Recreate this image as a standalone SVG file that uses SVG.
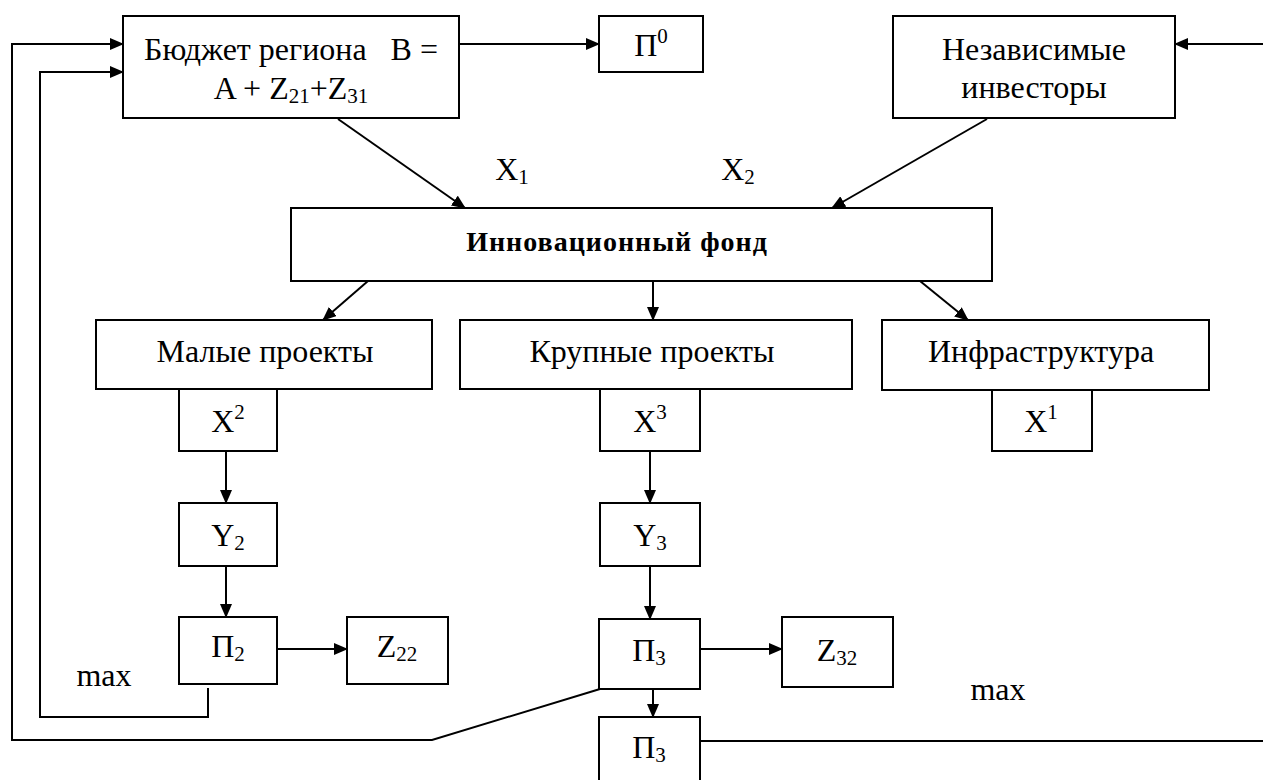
<svg xmlns="http://www.w3.org/2000/svg" width="1263" height="780" viewBox="0 0 1263 780">
<defs>
<marker id="ah" markerWidth="14" markerHeight="12" refX="13" refY="6" orient="auto" markerUnits="userSpaceOnUse">
<path d="M0,0 L14,6 L0,12 Z" fill="#000"/>
</marker>
<style>
rect{fill:#fff;stroke:#000;stroke-width:2}
text{font-family:"Liberation Serif","Times New Roman",serif;font-size:32px;fill:#000;text-anchor:middle}
.b{font-weight:bold;font-size:28px;letter-spacing:1px}
.sub{font-size:21px}
#conn line,#conn polyline{stroke:#000;stroke-width:2;fill:none}
.a{marker-end:url(#ah)}
</style>
</defs>
<rect x="0" y="0" width="1263" height="780" style="fill:#fff;stroke:none"/>
<g id="conn">
<line class="a" x1="459" y1="44" x2="599" y2="44"/>
<line class="a" x1="1263" y1="44" x2="1175" y2="44"/>
<polyline class="a" points="600,689 432,740 12,740 12,44 123,44"/>
<polyline class="a" points="208,688 208,717 40,717 40,72 123,72"/>
<line class="a" x1="338" y1="119" x2="465" y2="208"/>
<line class="a" x1="987" y1="119" x2="832" y2="208"/>
<line class="a" x1="368" y1="281" x2="323" y2="320"/>
<line class="a" x1="653" y1="281" x2="653" y2="320"/>
<line class="a" x1="920" y1="281" x2="968" y2="320"/>
<line class="a" x1="226" y1="451" x2="226" y2="503"/>
<line class="a" x1="226" y1="566" x2="226" y2="617"/>
<line class="a" x1="650" y1="451" x2="650" y2="503"/>
<line class="a" x1="650" y1="566" x2="650" y2="619"/>
<line class="a" x1="277" y1="649" x2="347" y2="649"/>
<line class="a" x1="700" y1="649" x2="782" y2="649"/>
<line class="a" x1="653" y1="689" x2="653" y2="717"/>
<line x1="700" y1="741" x2="1263" y2="741"/>
</g>
<g id="budget">
<rect x="123" y="16" width="336" height="102"/>
<text x="291" y="60" xml:space="preserve">Бюджет региона   B =</text>
<text x="291" y="99">A + Z<tspan class="sub" dy="4">21</tspan><tspan dy="-4">+Z</tspan><tspan class="sub" dy="4">31</tspan></text>
</g>
<g id="p0">
<rect x="599" y="16" width="104" height="56"/>
<text x="651" y="56">П<tspan class="sub" dy="-13">0</tspan></text>
</g>
<g id="investors">
<rect x="893" y="16" width="282" height="102"/>
<text x="1034" y="60">Независимые</text>
<text x="1034" y="98">инвесторы</text>
</g>
<g id="labels">
<text x="512" y="180">X<tspan class="sub" dy="4">1</tspan></text>
<text x="738" y="180">X<tspan class="sub" dy="4">2</tspan></text>
<text x="104" y="686">max</text>
<text x="998" y="700">max</text>
</g>
<g id="fund">
<rect x="291" y="208" width="701" height="73"/>
<text class="b" x="617" y="251">Инновационный фонд</text>
</g>
<g id="small">
<rect x="96" y="320" width="336" height="69"/>
<text x="265" y="362">Малые проекты</text>
</g>
<g id="large">
<rect x="460" y="320" width="392" height="69"/>
<text x="652" y="362">Крупные проекты</text>
</g>
<g id="infra">
<rect x="882" y="320" width="327" height="70"/>
<text x="1041" y="362">Инфраструктура</text>
</g>
<g id="x2">
<rect x="179" y="389" width="98" height="62"/>
<text x="228" y="432">X<tspan class="sub" dy="-13">2</tspan></text>
</g>
<g id="x3">
<rect x="600" y="389" width="100" height="62"/>
<text x="650" y="432">X<tspan class="sub" dy="-13">3</tspan></text>
</g>
<g id="x1">
<rect x="992" y="390" width="100" height="61"/>
<text x="1041" y="432">X<tspan class="sub" dy="-13">1</tspan></text>
</g>
<g id="y2">
<rect x="179" y="503" width="98" height="63"/>
<text x="228" y="546">Y<tspan class="sub" dy="4">2</tspan></text>
</g>
<g id="y3">
<rect x="600" y="503" width="100" height="63"/>
<text x="650" y="546">Y<tspan class="sub" dy="4">3</tspan></text>
</g>
<g id="p2">
<rect x="179" y="617" width="98" height="67"/>
<text x="228" y="657">П<tspan class="sub" dy="4">2</tspan></text>
</g>
<g id="z22">
<rect x="347" y="617" width="101" height="67"/>
<text x="397" y="657">Z<tspan class="sub" dy="4">22</tspan></text>
</g>
<g id="p3">
<rect x="599" y="619" width="101" height="70"/>
<text x="649" y="661">П<tspan class="sub" dy="4">3</tspan></text>
</g>
<g id="z32">
<rect x="782" y="617" width="111" height="70"/>
<text x="837" y="661">Z<tspan class="sub" dy="4">32</tspan></text>
</g>
<g id="p3b">
<rect x="599" y="717" width="101" height="90"/>
<text x="649" y="758">П<tspan class="sub" dy="4">3</tspan></text>
</g>
</svg>
